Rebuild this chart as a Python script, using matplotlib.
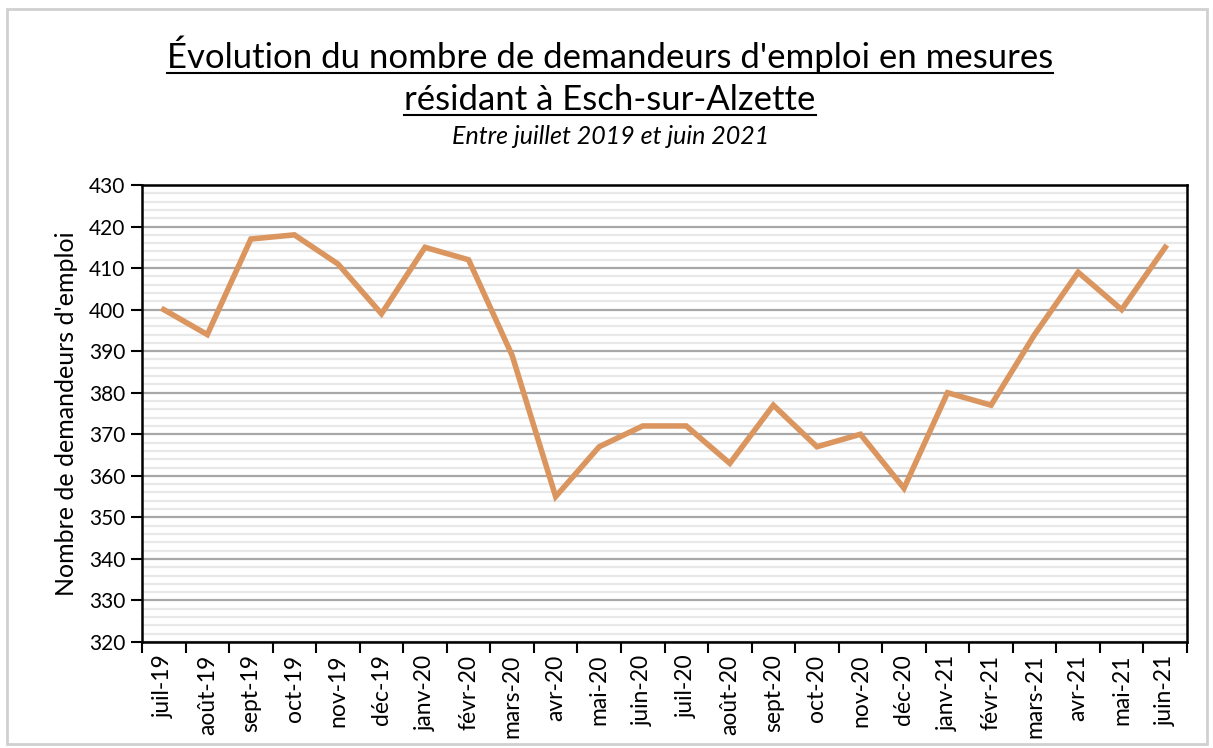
import numpy as np
import matplotlib.pyplot as plt
from matplotlib.lines import Line2D
from matplotlib.patches import Rectangle

months = ["juil-19", "août-19", "sept-19", "oct-19", "nov-19", "déc-19",
          "janv-20", "févr-20", "mars-20", "avr-20", "mai-20", "juin-20",
          "juil-20", "août-20", "sept-20", "oct-20", "nov-20", "déc-20",
          "janv-21", "févr-21", "mars-21", "avr-21", "mai-21", "juin-21"]
demandeurs = [400, 394, 417, 418, 411, 399, 415, 412, 389, 355, 367, 372,
              372, 363, 377, 367, 370, 357, 380, 377, 394, 409, 400, 415]

plt.rcParams["font.family"] = ["Lato", "DejaVu Sans"]

W, H = 1213, 748
fig = plt.figure(figsize=(W / 100, H / 100), dpi=100)
ax = fig.add_axes([142 / W, 1 - 642 / H, (1187 - 142) / W, (642 - 185) / H])

x = np.arange(len(months))
ax.plot(x, demandeurs, color="#DB9660", lw=4, solid_joinstyle="miter", zorder=3)

ax.set_xlim(-0.5, len(months) - 0.5)
ax.set_ylim(320, 430)
ax.set_yticks(np.arange(320, 431, 10))
ax.set_yticks(np.arange(320, 431, 2), minor=True)
ax.tick_params(axis="y", which="minor", length=0)
ax.tick_params(axis="y", which="major", length=8, width=1.5, labelsize=15, pad=4)
ax.grid(axis="y", which="major", color="#A8A8A8", lw=1.6, zorder=1)
ax.grid(axis="y", which="minor", color="#E8E8E8", lw=1.6, zorder=0)

# category labels centred, ticks on the boundaries
ax.set_xticks(x)
ax.set_xticklabels(months, rotation=90, fontsize=16.5)
ax.tick_params(axis="x", which="major", length=0, pad=9)
ax.set_xticks(np.arange(-0.5, len(months), 1), minor=True)
ax.tick_params(axis="x", which="minor", length=8, width=1.5)

for s in ax.spines.values():
    s.set_linewidth(1.8)
    s.set_color("black")

ax.set_ylabel("Nombre de demandeurs d'emploi", fontsize=18, labelpad=8)

# outer frame
fig.patches.append(Rectangle((7 / W, 4 / H), (1207 - 7) / W, (739 - 4) / H,
                             transform=fig.transFigure, fill=False,
                             edgecolor="#D0D0D0", lw=2))

t1 = fig.text(0.503, 1 - 55 / H, "Évolution du nombre de demandeurs d'emploi en mesures",
              ha="center", va="center", fontsize=25)
t2 = fig.text(0.503, 1 - 100 / H, "résidant à Esch-sur-Alzette",
              ha="center", va="center", fontsize=25)
fig.text(0.503, 1 - 137 / H, "Entre juillet 2019 et juin 2021",
         ha="center", va="center", fontsize=18, style="italic")

# underline the title lines
fig.canvas.draw()
r = fig.canvas.get_renderer()
for t in (t1, t2):
    bb = t.get_window_extent(r)
    y = bb.y0 + 1
    fig.add_artist(Line2D([bb.x0 / W, bb.x1 / W], [y / H, y / H],
                          transform=fig.transFigure, color="black", lw=1.5))

fig.savefig("out.png", dpi=100)
